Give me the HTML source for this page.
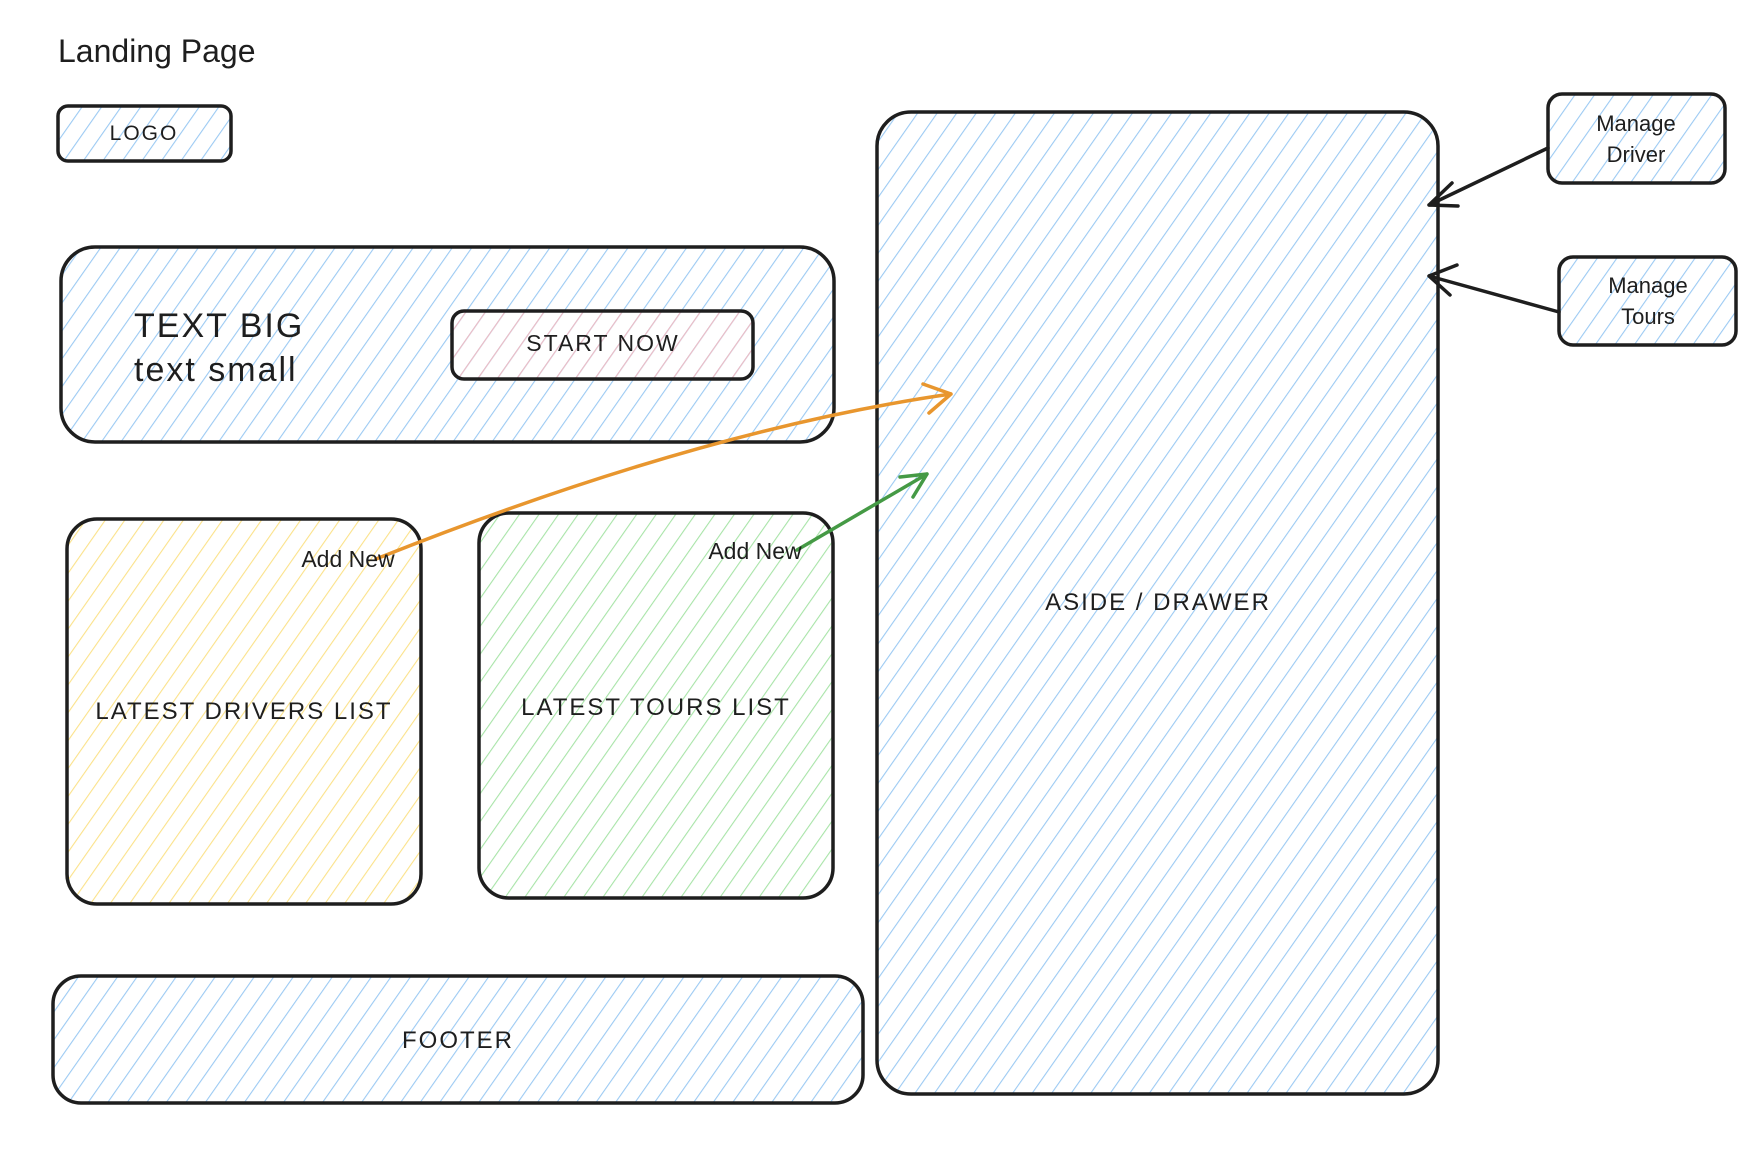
<!DOCTYPE html>
<html><head><meta charset="utf-8"><style>
html,body{margin:0;padding:0;background:#fff;}
svg{display:block;}
text{font-family:"Liberation Sans","DejaVu Sans",sans-serif;fill:#1e1e1e;}
.w{letter-spacing:2px;}
</style></head><body>
<svg width="1756" height="1156" viewBox="0 0 1756 1156" xmlns="http://www.w3.org/2000/svg">
<defs>
<pattern id="hb" width="16" height="16" patternUnits="userSpaceOnUse" patternTransform="rotate(35)"><line x1="0" y1="0" x2="0" y2="16" stroke="#9ccaf3" stroke-width="2.2"/></pattern>
<pattern id="hy" width="16" height="16" patternUnits="userSpaceOnUse" patternTransform="rotate(35)"><line x1="0" y1="0" x2="0" y2="16" stroke="#fbe28a" stroke-width="2.2"/></pattern>
<pattern id="hg" width="16" height="16" patternUnits="userSpaceOnUse" patternTransform="rotate(35)"><line x1="0" y1="0" x2="0" y2="16" stroke="#a8e4a8" stroke-width="2.2"/></pattern>
<pattern id="hr" width="16" height="16" patternUnits="userSpaceOnUse" patternTransform="rotate(35)"><line x1="0" y1="0" x2="0" y2="16" stroke="#f0bcc3" stroke-width="2.2"/></pattern>
</defs>
<g stroke="#1e1e1e" stroke-width="3.5">
<rect x="58" y="106" width="173" height="55" rx="10" fill="url(#hb)"/>
<rect x="61" y="247" width="773" height="195" rx="34" fill="url(#hb)"/>
<rect x="452" y="311" width="301" height="68" rx="12" fill="url(#hr)"/>
<rect x="67" y="519" width="354" height="385" rx="30" fill="url(#hy)"/>
<rect x="479" y="513" width="354" height="385" rx="30" fill="url(#hg)"/>
<rect x="53" y="976" width="810" height="127" rx="28" fill="url(#hb)"/>
<rect x="877" y="112" width="561" height="982" rx="34" fill="url(#hb)"/>
<rect x="1548" y="94" width="177" height="89" rx="14" fill="url(#hb)"/>
<rect x="1559" y="257" width="177" height="88" rx="14" fill="url(#hb)"/>
</g>
<g fill="none" stroke-width="3.5" stroke-linecap="round" stroke-linejoin="round">
<path d="M1548 148 L1429 205 M1429 205 L1452 183 M1429 205 L1458 206" stroke="#1e1e1e"/>
<path d="M1559 312 L1429 276 M1429 276 L1457 265 M1429 276 L1450 295" stroke="#1e1e1e"/>
<path d="M376 559 Q700 430 951 394 M951 394 L923 384 M951 394 L929 413" stroke="#e8962e"/>
<path d="M797 550 L927 474 M927 474 L900 477 M927 474 L913 497" stroke="#459a45"/>
</g>
<text x="58" y="62" font-size="32">Landing Page</text>
<text class="w" x="144" y="140" font-size="21" text-anchor="middle">LOGO</text>
<text class="w" x="134" y="337" font-size="34">TEXT BIG</text>
<text class="w" x="134" y="381" font-size="34">text small</text>
<text class="w" x="603" y="351" font-size="23" text-anchor="middle">START NOW</text>
<text x="348" y="567" font-size="23" text-anchor="middle">Add New</text>
<text x="755" y="559" font-size="23" text-anchor="middle">Add New</text>
<text class="w" x="244" y="719" font-size="24" text-anchor="middle">LATEST DRIVERS LIST</text>
<text class="w" x="656" y="715" font-size="24" text-anchor="middle">LATEST TOURS LIST</text>
<text class="w" x="1158" y="610" font-size="24" text-anchor="middle">ASIDE / DRAWER</text>
<text class="w" x="458" y="1048" font-size="24" text-anchor="middle">FOOTER</text>
<text x="1636" y="131" font-size="22" text-anchor="middle">Manage</text>
<text x="1636" y="162" font-size="22" text-anchor="middle">Driver</text>
<text x="1648" y="293" font-size="22" text-anchor="middle">Manage</text>
<text x="1648" y="324" font-size="22" text-anchor="middle">Tours</text>
</svg>
</body></html>
